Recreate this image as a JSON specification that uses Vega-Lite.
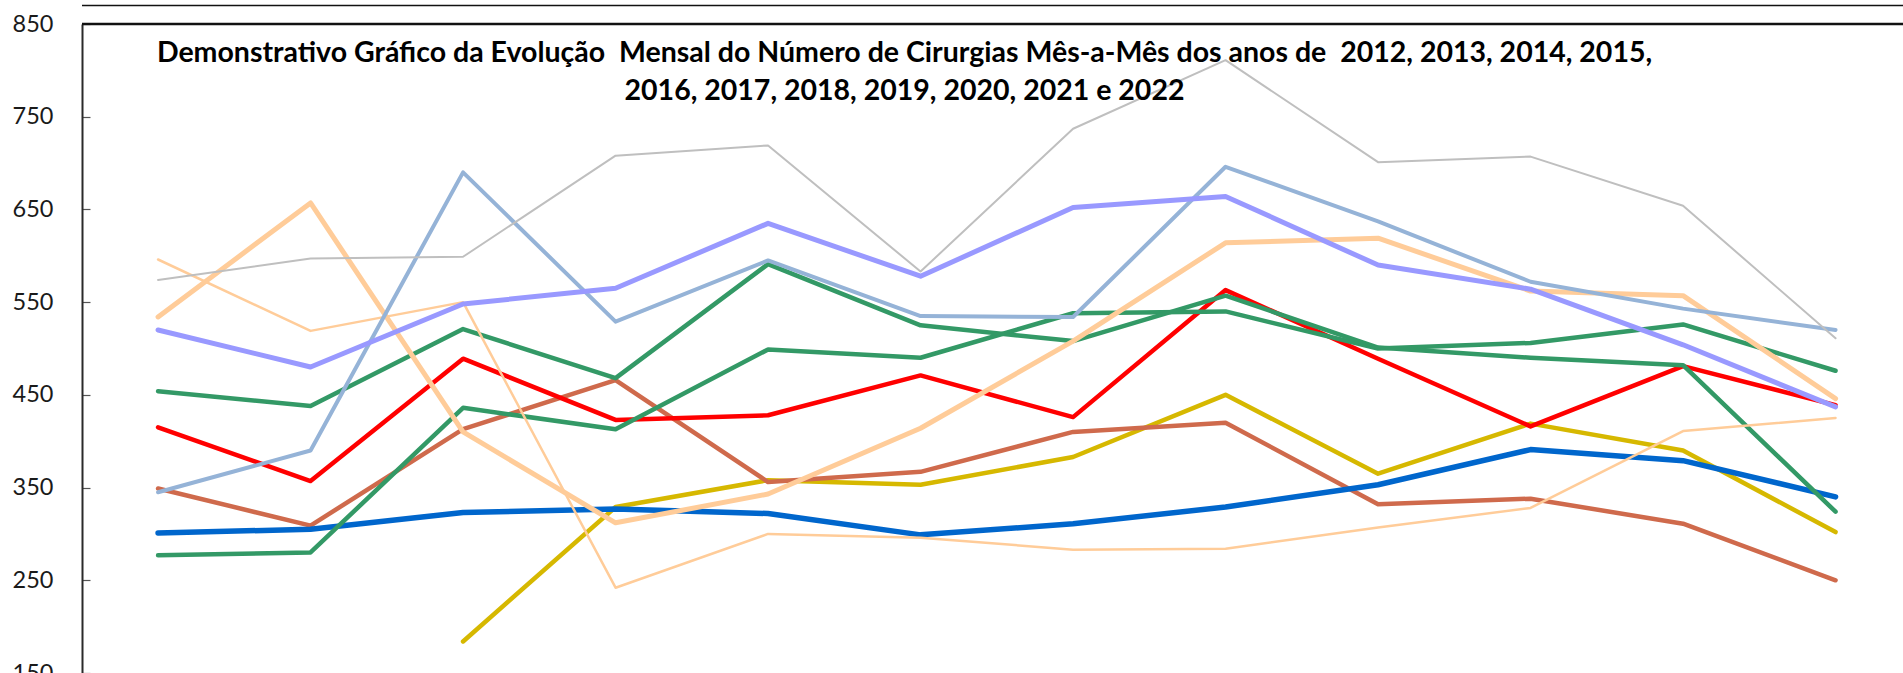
{
  "$schema": "https://vega.github.io/schema/vega-lite/v6.json",
  "autosize": {"type": "none"},
  "padding": {"left": 82, "top": 24, "right": 0, "bottom": 0},
  "width": 1821,
  "height": 649,
  "background": "white",
  "title": {
    "text": ["Demonstrativo Gráfico da Evolução\u00a0 Mensal do Número de Cirurgias Mês-a-Mês dos anos de\u00a0 2012, 2013, 2014, 2015,", "2016, 2017, 2018, 2019, 2020, 2021 e 2022"],
    "anchor": "middle",
    "frame": "group",
    "font": "Lato",
    "fontWeight": "bold",
    "fontSize": 28.5,
    "color": "#000000",
    "lineHeight": 38,
    "baseline": "alphabetic",
    "dx": -88,
    "dy": 128
  },
  "datasets": {
    "cirurgias": [
      {"ano": "2012", "mes": "Mar", "valor": 184}, {"ano": "2012", "mes": "Abr", "valor": 329}, {"ano": "2012", "mes": "Mai", "valor": 358}, {"ano": "2012", "mes": "Jun", "valor": 353}, {"ano": "2012", "mes": "Jul", "valor": 383}, {"ano": "2012", "mes": "Ago", "valor": 450}, {"ano": "2012", "mes": "Set", "valor": 365}, {"ano": "2012", "mes": "Out", "valor": 419}, {"ano": "2012", "mes": "Nov", "valor": 390}, {"ano": "2012", "mes": "Dez", "valor": 302},
      {"ano": "2013", "mes": "Jan", "valor": 349}, {"ano": "2013", "mes": "Fev", "valor": 309}, {"ano": "2013", "mes": "Mar", "valor": 413}, {"ano": "2013", "mes": "Abr", "valor": 466}, {"ano": "2013", "mes": "Mai", "valor": 356}, {"ano": "2013", "mes": "Jun", "valor": 367}, {"ano": "2013", "mes": "Jul", "valor": 410}, {"ano": "2013", "mes": "Ago", "valor": 420}, {"ano": "2013", "mes": "Set", "valor": 332}, {"ano": "2013", "mes": "Out", "valor": 338}, {"ano": "2013", "mes": "Nov", "valor": 311}, {"ano": "2013", "mes": "Dez", "valor": 250},
      {"ano": "2014", "mes": "Jan", "valor": 301}, {"ano": "2014", "mes": "Fev", "valor": 305}, {"ano": "2014", "mes": "Mar", "valor": 323}, {"ano": "2014", "mes": "Abr", "valor": 327}, {"ano": "2014", "mes": "Mai", "valor": 322}, {"ano": "2014", "mes": "Jun", "valor": 299}, {"ano": "2014", "mes": "Jul", "valor": 311}, {"ano": "2014", "mes": "Ago", "valor": 329}, {"ano": "2014", "mes": "Set", "valor": 353}, {"ano": "2014", "mes": "Out", "valor": 391}, {"ano": "2014", "mes": "Nov", "valor": 379}, {"ano": "2014", "mes": "Dez", "valor": 340},
      {"ano": "2015", "mes": "Jan", "valor": 415}, {"ano": "2015", "mes": "Fev", "valor": 357}, {"ano": "2015", "mes": "Mar", "valor": 489}, {"ano": "2015", "mes": "Abr", "valor": 423}, {"ano": "2015", "mes": "Mai", "valor": 428}, {"ano": "2015", "mes": "Jun", "valor": 471}, {"ano": "2015", "mes": "Jul", "valor": 426}, {"ano": "2015", "mes": "Ago", "valor": 563}, {"ano": "2015", "mes": "Set", "valor": 489}, {"ano": "2015", "mes": "Out", "valor": 416}, {"ano": "2015", "mes": "Nov", "valor": 481}, {"ano": "2015", "mes": "Dez", "valor": 439},
      {"ano": "2016", "mes": "Jan", "valor": 277}, {"ano": "2016", "mes": "Fev", "valor": 280}, {"ano": "2016", "mes": "Mar", "valor": 436}, {"ano": "2016", "mes": "Abr", "valor": 413}, {"ano": "2016", "mes": "Mai", "valor": 499}, {"ano": "2016", "mes": "Jun", "valor": 490}, {"ano": "2016", "mes": "Jul", "valor": 538}, {"ano": "2016", "mes": "Ago", "valor": 540}, {"ano": "2016", "mes": "Set", "valor": 500}, {"ano": "2016", "mes": "Out", "valor": 506}, {"ano": "2016", "mes": "Nov", "valor": 526}, {"ano": "2016", "mes": "Dez", "valor": 476},
      {"ano": "2017", "mes": "Jan", "valor": 454}, {"ano": "2017", "mes": "Fev", "valor": 438}, {"ano": "2017", "mes": "Mar", "valor": 521}, {"ano": "2017", "mes": "Abr", "valor": 468}, {"ano": "2017", "mes": "Mai", "valor": 591}, {"ano": "2017", "mes": "Jun", "valor": 525}, {"ano": "2017", "mes": "Jul", "valor": 508}, {"ano": "2017", "mes": "Ago", "valor": 557}, {"ano": "2017", "mes": "Set", "valor": 501}, {"ano": "2017", "mes": "Out", "valor": 490}, {"ano": "2017", "mes": "Nov", "valor": 482}, {"ano": "2017", "mes": "Dez", "valor": 324},
      {"ano": "2018", "mes": "Jan", "valor": 596}, {"ano": "2018", "mes": "Fev", "valor": 519}, {"ano": "2018", "mes": "Mar", "valor": 550}, {"ano": "2018", "mes": "Abr", "valor": 242}, {"ano": "2018", "mes": "Mai", "valor": 300}, {"ano": "2018", "mes": "Jun", "valor": 296}, {"ano": "2018", "mes": "Jul", "valor": 283}, {"ano": "2018", "mes": "Ago", "valor": 284}, {"ano": "2018", "mes": "Set", "valor": 307}, {"ano": "2018", "mes": "Out", "valor": 328}, {"ano": "2018", "mes": "Nov", "valor": 411}, {"ano": "2018", "mes": "Dez", "valor": 425},
      {"ano": "2019", "mes": "Jan", "valor": 534}, {"ano": "2019", "mes": "Fev", "valor": 657}, {"ano": "2019", "mes": "Mar", "valor": 410}, {"ano": "2019", "mes": "Abr", "valor": 312}, {"ano": "2019", "mes": "Mai", "valor": 343}, {"ano": "2019", "mes": "Jun", "valor": 414}, {"ano": "2019", "mes": "Jul", "valor": 508}, {"ano": "2019", "mes": "Ago", "valor": 614}, {"ano": "2019", "mes": "Set", "valor": 619}, {"ano": "2019", "mes": "Out", "valor": 562}, {"ano": "2019", "mes": "Nov", "valor": 557}, {"ano": "2019", "mes": "Dez", "valor": 446},
      {"ano": "2020", "mes": "Jan", "valor": 345}, {"ano": "2020", "mes": "Fev", "valor": 390}, {"ano": "2020", "mes": "Mar", "valor": 690}, {"ano": "2020", "mes": "Abr", "valor": 529}, {"ano": "2020", "mes": "Mai", "valor": 595}, {"ano": "2020", "mes": "Jun", "valor": 535}, {"ano": "2020", "mes": "Jul", "valor": 534}, {"ano": "2020", "mes": "Ago", "valor": 696}, {"ano": "2020", "mes": "Set", "valor": 637}, {"ano": "2020", "mes": "Out", "valor": 572}, {"ano": "2020", "mes": "Nov", "valor": 543}, {"ano": "2020", "mes": "Dez", "valor": 520},
      {"ano": "2021", "mes": "Jan", "valor": 520}, {"ano": "2021", "mes": "Fev", "valor": 480}, {"ano": "2021", "mes": "Mar", "valor": 548}, {"ano": "2021", "mes": "Abr", "valor": 565}, {"ano": "2021", "mes": "Mai", "valor": 635}, {"ano": "2021", "mes": "Jun", "valor": 578}, {"ano": "2021", "mes": "Jul", "valor": 652}, {"ano": "2021", "mes": "Ago", "valor": 664}, {"ano": "2021", "mes": "Set", "valor": 590}, {"ano": "2021", "mes": "Out", "valor": 564}, {"ano": "2021", "mes": "Nov", "valor": 504}, {"ano": "2021", "mes": "Dez", "valor": 437},
      {"ano": "2022", "mes": "Jan", "valor": 574}, {"ano": "2022", "mes": "Fev", "valor": 597}, {"ano": "2022", "mes": "Mar", "valor": 599}, {"ano": "2022", "mes": "Abr", "valor": 708}, {"ano": "2022", "mes": "Mai", "valor": 719}, {"ano": "2022", "mes": "Jun", "valor": 583}, {"ano": "2022", "mes": "Jul", "valor": 737}, {"ano": "2022", "mes": "Ago", "valor": 811}, {"ano": "2022", "mes": "Set", "valor": 701}, {"ano": "2022", "mes": "Out", "valor": 707}, {"ano": "2022", "mes": "Nov", "valor": 654}, {"ano": "2022", "mes": "Dez", "valor": 511}
    ]
  },
  "config": {
    "view": {"stroke": null},
    "font": "Lato"
  },
  "layer": [
    {
      "data": {"values": [{}]},
      "mark": {"type": "rule", "color": "#111111", "strokeWidth": 1.5},
      "encoding": {
        "y": {"datum": 870, "type": "quantitative", "scale": {"domain": [150, 850], "nice": false, "zero": false}, "title": null}
      }
    },
    {
      "data": {"values": [{}]},
      "mark": {"type": "rule", "color": "#111111", "strokeWidth": 2.5},
      "encoding": {
        "y": {"datum": 850, "type": "quantitative", "scale": {"domain": [150, 850], "nice": false, "zero": false}, "title": null}
      }
    },
    {
      "data": {"name": "cirurgias"},
      "mark": {"type": "line", "strokeJoin": "round", "strokeCap": "round"},
      "encoding": {
        "x": {
          "field": "mes", "type": "ordinal",
          "sort": ["Jan", "Fev", "Mar", "Abr", "Mai", "Jun", "Jul", "Ago", "Set", "Out", "Nov", "Dez"],
          "scale": {"type": "point", "domain": ["Jan", "Fev", "Mar", "Abr", "Mai", "Jun", "Jul", "Ago", "Set", "Out", "Nov", "Dez"], "padding": 0.4705, "align": 0.53},
          "axis": null
        },
        "y": {
          "field": "valor", "type": "quantitative",
          "scale": {"domain": [150, 850], "nice": false, "zero": false},
          "title": null,
          "axis": {
            "values": [150, 250, 350, 450, 550, 650, 750, 850],
            "grid": false,
            "labelFont": "Lato",
            "labelFontSize": 23.5,
            "labelColor": "#1a1a1a",
            "domainColor": "#2a2a2a",
            "domainWidth": 2,
            "tickColor": "#555555",
            "tickWidth": 1.2,
            "tickSize": -8,
            "labelPadding": 37
          }
        },
        "color": {
          "field": "ano", "type": "nominal",
          "scale": {
            "domain": ["2012", "2013", "2014", "2015", "2016", "2017", "2018", "2019", "2020", "2021", "2022"],
            "range": ["#D6B800", "#CF6A4C", "#0066CC", "#FF0000", "#339966", "#339966", "#FFCC99", "#FFCC99", "#95B3D7", "#9999FF", "#BFBFBF"]
          },
          "legend": null
        },
        "strokeWidth": {
          "field": "ano", "type": "nominal",
          "scale": {
            "type": "ordinal",
            "domain": ["2012", "2013", "2014", "2015", "2016", "2017", "2018", "2019", "2020", "2021", "2022"],
            "range": [4.5, 4.5, 5.5, 4.5, 4.5, 4.5, 2.5, 5, 4, 5, 2]
          },
          "legend": null
        }
      }
    }
  ]
}
